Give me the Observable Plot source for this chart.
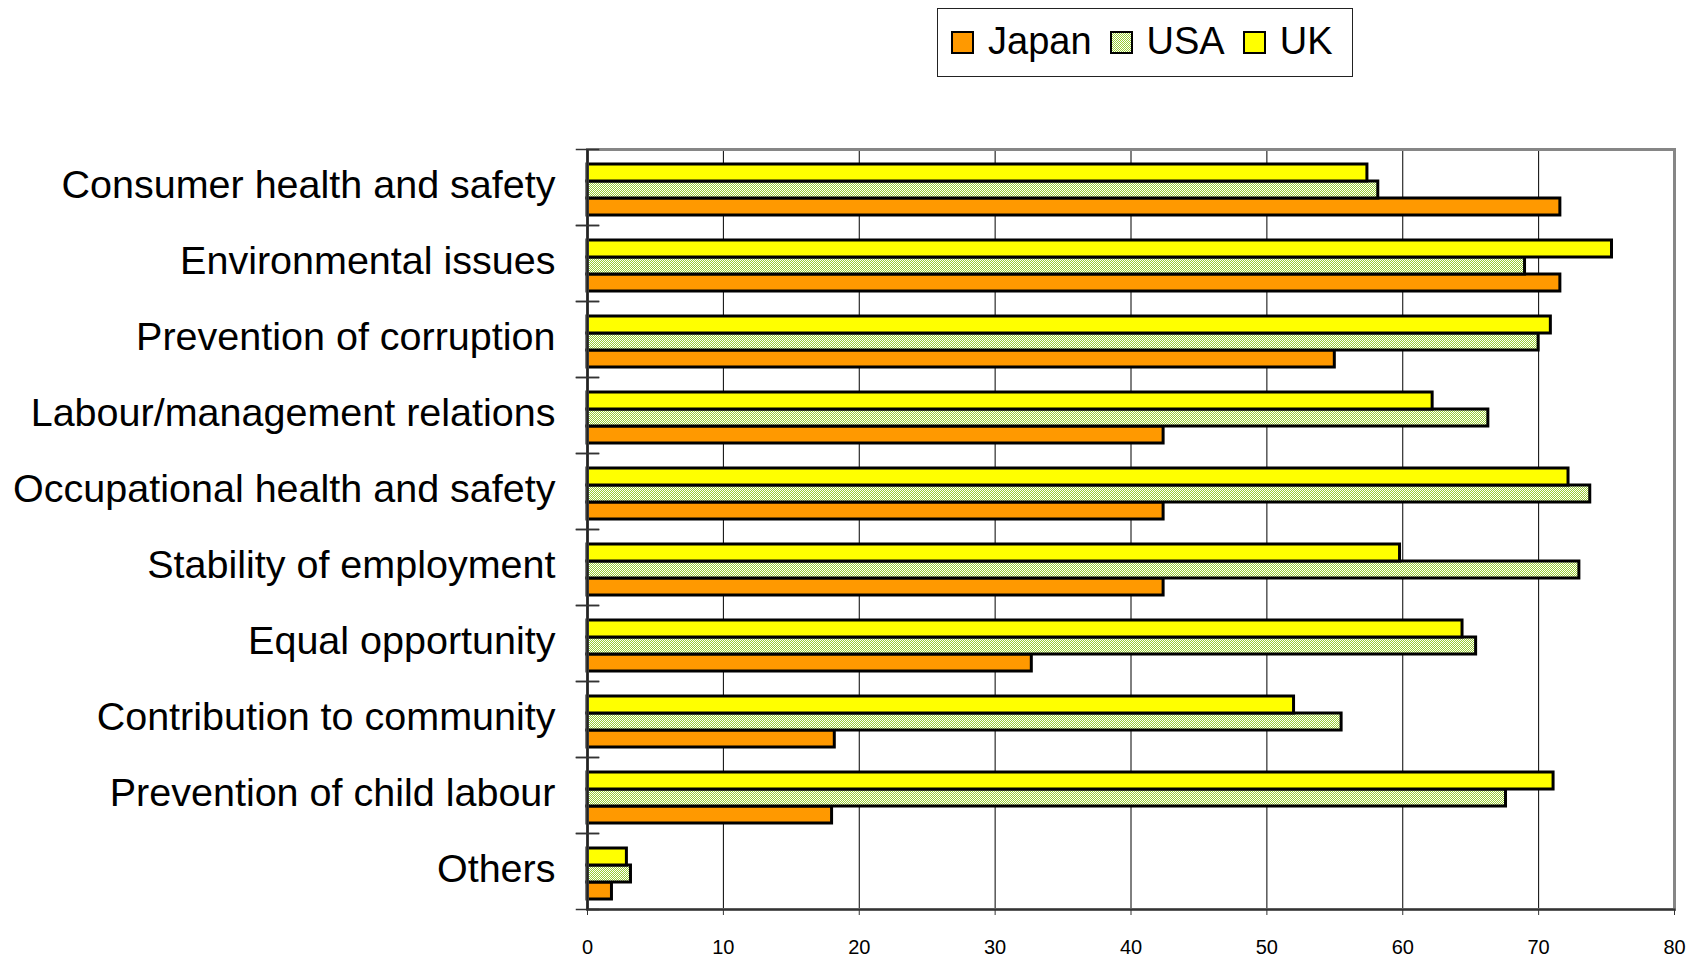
<!DOCTYPE html>
<html>
<head>
<meta charset="utf-8">
<script src="https://cdn.jsdelivr.net/npm/d3@7"></script>
<script src="https://cdn.jsdelivr.net/npm/@observablehq/plot@0.6"></script>
<style>
  html, body { margin: 0; padding: 0; background: #fff; }
  body { width: 1705px; height: 960px; overflow: hidden; font-family: "Liberation Sans", Arial, sans-serif; }
  #legend { position: relative; width: 1705px; height: 90px; }
  #legend .box {
    position: absolute; left: 937px; top: 8px; width: 416px; height: 69px;
    border: 1px solid #222; background: #fff; box-sizing: border-box;
    display: flex; align-items: center; padding-left: 13px; padding-bottom: 4px;
  }
  #legend .item { display: flex; align-items: center; margin-right: 18px; }
  #legend .sw { width: 19px; height: 19px; border: 2.5px solid #000; margin-right: 14px; margin-top: 4px; }
  #legend .lab { font-size: 38px; color: #000; line-height: 1; }
  #defs { position: absolute; width: 0; height: 0; }
  #chart svg { display: block; }
</style>
</head>
<body>
<svg id="defs" aria-hidden="true">
  <defs>
    <pattern id="usaChecker" width="2" height="2" patternUnits="userSpaceOnUse">
      <rect width="2" height="2" fill="#ffffff"></rect>
      <rect width="1" height="1" fill="#99cc33"></rect>
      <rect x="1" y="1" width="1" height="1" fill="#99cc33"></rect>
    </pattern>
  </defs>
</svg>
<div id="legend"><div class="box"></div></div>
<div id="chart"></div>
<script>
// Issues covered by corporate codes of conduct (%), by country
const categories = [
  "Consumer health and safety",
  "Environmental issues",
  "Prevention of corruption",
  "Labour/management relations",
  "Occupational health and safety",
  "Stability of employment",
  "Equal opportunity",
  "Contribution to community",
  "Prevention of child labour",
  "Others"
];
const series = ["Japan", "USA", "UK"];
const japan = [71.6, 71.6, 55.0, 42.4, 42.4, 42.4, 32.7, 18.2, 18.0, 1.8];
const usa   = [58.2, 69.0, 70.0, 66.3, 73.8, 73.0, 65.4, 55.5, 67.6, 3.2];
const uk    = [57.4, 75.4, 70.9, 62.2, 72.2, 59.8, 64.4, 52.0, 71.1, 2.9];
const xTicks = [0, 10, 20, 30, 40, 50, 60, 70, 80];

const seriesFill = {Japan: "#ff9900", USA: "url(#usaChecker)", UK: "#ffff00"};
const legendSwatch = {
  Japan: "#ff9900",
  USA: "repeating-conic-gradient(#99cc33 0 25%, #ffffff 0 50%) 0 0 / 2px 2px",
  UK: "#ffff00"
};

// long-format rows for the grouped bars
const valuesBySeries = {Japan: japan, USA: usa, UK: uk};
const rows = [];
categories.forEach((category, i) => {
  for (const s of series) rows.push({category, series: s, value: valuesBySeries[s][i]});
});

// legend
const box = document.querySelector("#legend .box");
for (const s of series) {
  const item = document.createElement("div");
  item.className = "item";
  const sw = document.createElement("div");
  sw.className = "sw";
  sw.style.background = legendSwatch[s];
  const lab = document.createElement("span");
  lab.className = "lab";
  lab.textContent = s;
  item.append(sw, lab);
  box.append(item);
}

const W = 1705, H = 870, mL = 587, mR = 31;
const innerW = W - mL - mR;

const chart = Plot.plot({
  width: W,
  height: H,
  marginTop: 54,
  marginBottom: 47,
  marginLeft: mL,
  marginRight: mR,
  style: {fontFamily: "'Liberation Sans', Arial, sans-serif", background: "#fff", color: "#000"},
  x: {domain: [0, 80], axis: null},
  y: {domain: ["UK", "USA", "Japan"], axis: null, paddingInner: 0, paddingOuter: 0.7, align: 0.6},
  fy: {domain: categories, axis: null, padding: 0},
  color: {domain: series, range: series.map((s) => seriesFill[s])},
  marks: [
    // vertical gridlines
    Plot.ruleX(xTicks.slice(1, -1), {stroke: "#000", strokeWidth: 1}),
    // grouped bars
    Plot.barX(rows, {
      fy: "category",
      y: "series",
      x: "value",
      fill: "series",
      stroke: "#000",
      strokeWidth: 3
    }),
    // plot-area border
    Plot.frame({facet: "super", stroke: "#868686", strokeWidth: 3}),
    Plot.frame({facet: "super", anchor: "bottom", stroke: "#333", strokeWidth: 2}),
    // value axis line
    Plot.ruleX([0], {stroke: "#222", strokeWidth: 2.5}),
    // category boundary ticks across the value axis
    Plot.frame({anchor: "top", insetLeft: -11, insetRight: innerW - 11, stroke: "#333", strokeWidth: 1.5}),
    Plot.frame({anchor: "bottom", insetLeft: -11, insetRight: innerW - 11, stroke: "#333", strokeWidth: 1.5}),
    Plot.axisX({ticks: xTicks, tickSize: 6, tickPadding: 24, fontSize: 20, label: null, stroke: "#333"}),
    Plot.axisFy({anchor: "left", tickSize: 0, tickPadding: 32, fontSize: 39.5, dy: -2, label: null})
  ]
});
document.getElementById("chart").append(chart);
</script>
</body>
</html>
